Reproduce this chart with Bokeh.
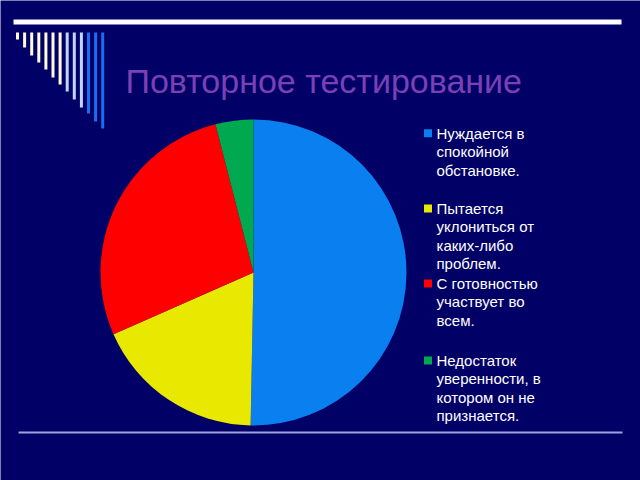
import numpy as np
import pandas as pd
from bokeh.plotting import figure
from bokeh.models import ColumnDataSource, Range1d
from bokeh.core.properties import value
from bokeh.embed import file_html
from bokeh.resources import INLINE

# ---- data ----
title = "Повторное тестирование"
categories = [
    "Нуждается в\nспокойной\nобстановке.",
    "Пытается\nуклониться от\nкаких-либо\nпроблем.",
    "С готовностью\nучаствует во\nвсем.",
    "Недостаток\nуверенности, в\nкотором он не\nпризнается.",
]
shares = [50.3, 18.1, 27.6, 4.0]
colors = ["#0a7ff0", "#e8e800", "#ff0000", "#00a850"]

BG = "#000066"
FONT = "Liberation Sans"

W, H = 640, 480
def Y(py):
    return 480 - py

p = figure(width=W, height=H, output_backend="svg", toolbar_location=None,
           x_range=Range1d(0, 640), y_range=Range1d(0, 480),
           x_axis_type=None, y_axis_type=None, min_border=0,
           background_fill_color=BG, border_fill_color=BG, outline_line_color=None)
p.grid.visible = False

# ---- decorations ----
p.segment(x0=[13], y0=[Y(21.5)], x1=[621], y1=[Y(21.5)], line_color="white", line_width=5)
p.segment(x0=[18], y0=[Y(432)], x1=[622], y1=[Y(432)], line_color="#a0a0e0", line_width=2)

bar_x = [17 + 7.1 * i for i in range(13)]
bar_bottom = [39, 47, 55, 62, 69, 77, 84, 91, 99, 107, 113, 121, 128]
bar_col = ["#fffbd8"] * 7 + ["#c0d6ff"] * 3 + ["#1a6ff0"] * 3
p.segment(x0=bar_x, y0=[Y(32)] * 13, x1=bar_x, y1=[Y(b) for b in bar_bottom],
          line_color=bar_col, line_width=3)

# ---- title ----
p.text(x=[125], y=[Y(80)], text=[title], text_font=value(FONT), text_font_size="34px",
       text_color="#7b40b6", text_baseline="middle", text_align="left")

# ---- pie ----
df = pd.DataFrame({"cat": categories, "share": shares, "color": colors})
frac = df["share"] / df["share"].sum()
cum = frac.cumsum()
df["end"] = np.pi / 2 - 2 * np.pi * cum
df["start"] = np.pi / 2 - 2 * np.pi * (cum - frac)
src = ColumnDataSource(df)
p.wedge(x=253, y=Y(272), radius=153, start_angle="start", end_angle="end",
        direction="clock", fill_color="color", line_color=None, source=src)

# ---- legend ----
entry_top = [132.7, 208, 283, 360]
pitch = 18.4
lx, ly, lt = [], [], []
mx, my = [], []
for cat, top in zip(categories, entry_top):
    mx.append(427.5); my.append(Y(top))
    for j, line in enumerate(cat.split("\n")):
        lx.append(436); ly.append(Y(top + j * pitch)); lt.append(line)
p.rect(x=mx, y=my, width=8, height=8, fill_color=colors, line_color=None)
p.text(x=lx, y=ly, text=lt, text_font=value(FONT), text_font_size="15px",
       text_color="white", text_baseline="middle", text_align="left")

open("out.html", "w").write(file_html(p, INLINE))
